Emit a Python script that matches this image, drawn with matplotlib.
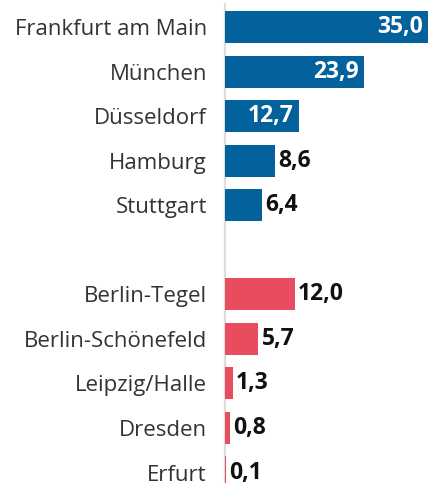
import matplotlib
matplotlib.use("Agg")

import matplotlib.pyplot as plt

# ── Data ──────────────────────────────────────────────────────────────────────
west_airports = ["Frankfurt am Main", "München", "Düsseldorf", "Hamburg", "Stuttgart"]
west_values = [35.0, 23.9, 12.7, 8.6, 6.4]

east_airports = ["Berlin-Tegel", "Berlin-Schönefeld", "Leipzig/Halle", "Dresden", "Erfurt"]
east_values = [12.0, 5.7, 1.3, 0.8, 0.1]

BLUE = "#03629b"
RED = "#e94c5f"
FONT = ["Open Sans", "DejaVu Sans"]

# one empty slot between the two groups
west_pos = list(range(len(west_airports)))
east_pos = [len(west_airports) + 1 + i for i in range(len(east_airports))]

fig = plt.figure(figsize=(4.28, 4.83), dpi=100)
ax = fig.add_axes([225 / 428, 0.0, 1 - 225 / 428, 1 - 4 / 483])

ax.barh(west_pos, west_values, height=0.72, color=BLUE, zorder=2)
ax.barh(east_pos, east_values, height=0.72, color=RED, zorder=2)

# value labels: inside (white) for long bars, outside (black) otherwise
for pos, val in zip(west_pos + east_pos, west_values + east_values):
    txt = f"{val:.1f}".replace(".", ",")
    if val >= 12.5:
        ax.text(val - 0.8, pos, txt, ha="right", va="center", color="white",
                fontsize=16.5, fontweight="bold", family=FONT, zorder=3)
    else:
        ax.text(val + 0.6, pos, txt, ha="left", va="center", color="#111111",
                fontsize=16.5, fontweight="bold", family=FONT, zorder=3)

ax.set_xlim(0, 35)
ax.set_ylim(10.235, -0.516)

ax.set_yticks(west_pos + east_pos)
ax.set_yticklabels(west_airports + east_airports, family=FONT, fontsize=16, color="#333333")
ax.tick_params(axis="y", length=0, pad=13)
ax.set_xticks([])

for side in ("top", "right", "bottom"):
    ax.spines[side].set_visible(False)
ax.spines["left"].set_color("#dddddd")
ax.spines["left"].set_linewidth(1.6)
ax.spines["left"].set_zorder(1)

fig.savefig("out.png", dpi=100)
